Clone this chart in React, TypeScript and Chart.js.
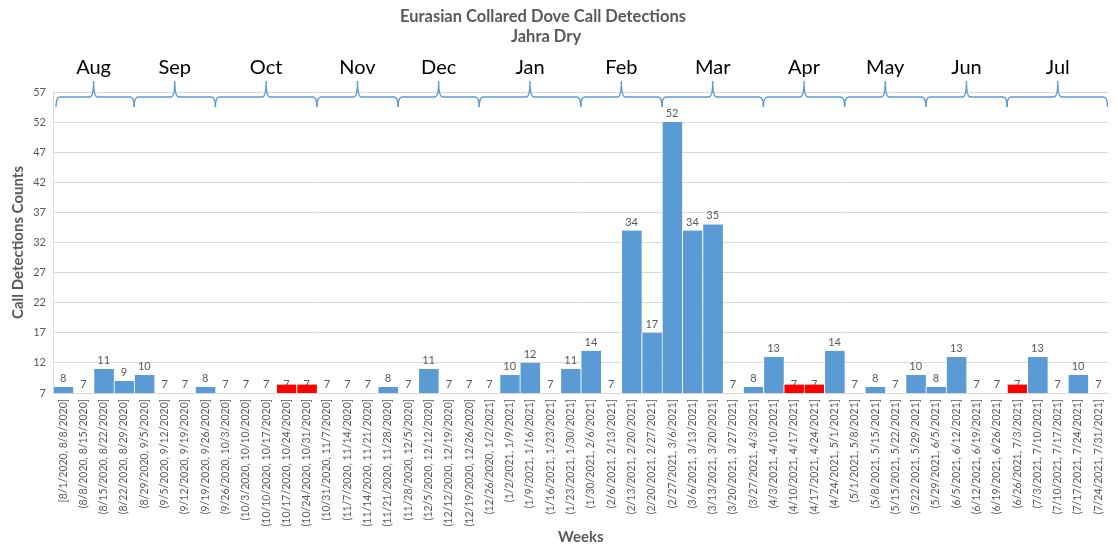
import React, { useEffect, useRef } from 'react';
import { Chart, registerables } from 'chart.js';

Chart.register(...registerables);

const chartTitle = ['Eurasian Collared Dove Call Detections', 'Jahra Dry'];

const weekLabels = [
  '[8/1/2020, 8/8/2020]',
  '(8/8/2020, 8/15/2020]',
  '(8/15/2020, 8/22/2020]',
  '(8/22/2020, 8/29/2020]',
  '(8/29/2020, 9/5/2020]',
  '(9/5/2020, 9/12/2020]',
  '(9/12/2020, 9/19/2020]',
  '(9/19/2020, 9/26/2020]',
  '(9/26/2020, 10/3/2020]',
  '(10/3/2020, 10/10/2020]',
  '(10/10/2020, 10/17/2020]',
  '(10/17/2020, 10/24/2020]',
  '(10/24/2020, 10/31/2020]',
  '(10/31/2020, 11/7/2020]',
  '(11/7/2020, 11/14/2020]',
  '(11/14/2020, 11/21/2020]',
  '(11/21/2020, 11/28/2020]',
  '(11/28/2020, 12/5/2020]',
  '(12/5/2020, 12/12/2020]',
  '(12/12/2020, 12/19/2020]',
  '(12/19/2020, 12/26/2020]',
  '(12/26/2020, 1/2/2021]',
  '(1/2/2021, 1/9/2021]',
  '(1/9/2021, 1/16/2021]',
  '(1/16/2021, 1/23/2021]',
  '(1/23/2021, 1/30/2021]',
  '(1/30/2021, 2/6/2021]',
  '(2/6/2021, 2/13/2021]',
  '(2/13/2021, 2/20/2021]',
  '(2/20/2021, 2/27/2021]',
  '(2/27/2021, 3/6/2021]',
  '(3/6/2021, 3/13/2021]',
  '(3/13/2021, 3/20/2021]',
  '(3/20/2021, 3/27/2021]',
  '(3/27/2021, 4/3/2021]',
  '(4/3/2021, 4/10/2021]',
  '(4/10/2021, 4/17/2021]',
  '(4/17/2021, 4/24/2021]',
  '(4/24/2021, 5/1/2021]',
  '(5/1/2021, 5/8/2021]',
  '(5/8/2021, 5/15/2021]',
  '(5/15/2021, 5/22/2021]',
  '(5/22/2021, 5/29/2021]',
  '(5/29/2021, 6/5/2021]',
  '(6/5/2021, 6/12/2021]',
  '(6/12/2021, 6/19/2021]',
  '(6/19/2021, 6/26/2021]',
  '(6/26/2021, 7/3/2021]',
  '(7/3/2021, 7/10/2021]',
  '(7/10/2021, 7/17/2021]',
  '(7/17/2021, 7/24/2021]',
  '(7/24/2021, 7/31/2021]',
];

const callCounts = [
  8, 7, 11, 9, 10, 7, 7, 8, 7, 7, 7, 7, 7,
  7, 7, 7, 8, 7, 11, 7, 7, 7, 10, 12, 7, 11,
  14, 7, 34, 17, 52, 34, 35, 7, 8, 13, 7, 7, 14,
  7, 8, 7, 10, 8, 13, 7, 7, 7, 13, 7, 10, 7,
];

// weeks highlighted in red (bar drawn to a marker height, label keeps the count)
const flaggedWeeks = [
  '(10/17/2020, 10/24/2020]',
  '(10/24/2020, 10/31/2020]',
  '(4/10/2021, 4/17/2021]',
  '(4/17/2021, 4/24/2021]',
  '(6/26/2021, 7/3/2021]',
];
const flaggedBarValue = 8.4;

const monthNames = ['Aug', 'Sep', 'Oct', 'Nov', 'Dec', 'Jan', 'Feb', 'Mar', 'Apr', 'May', 'Jun', 'Jul'];
const weeksPerMonth = [4, 4, 5, 4, 4, 5, 4, 5, 4, 4, 4, 5];

const yTicks = [7, 12, 17, 22, 27, 32, 37, 42, 47, 52, 57];

const GRAY = '#595959';
const BLUE = '#5B9BD5';
const RED = '#FF0000';

export default function App() {
  const canvasRef = useRef<HTMLCanvasElement | null>(null);

  useEffect(() => {
    document.body.style.margin = '0';
    const canvas = canvasRef.current;
    if (!canvas) return;
    const flagged = new Set(flaggedWeeks);
    const barValues = weekLabels.map((w, i) => (flagged.has(w) ? flaggedBarValue : callCounts[i]));
    const barColors = weekLabels.map((w) => (flagged.has(w) ? RED : BLUE));

    const overlay = {
      id: 'overlay',
      beforeDatasetsDraw(chart: any) {
        const ctx = chart.ctx;
        const meta = chart.getDatasetMeta(0);
        const y = chart.scales.y;
        ctx.save();
        ctx.font = '11px Lato';
        ctx.fillStyle = GRAY;
        ctx.textAlign = 'center';
        ctx.textBaseline = 'bottom';
        callCounts.forEach((v, i) => {
          const el = meta.data[i];
          ctx.fillText(String(v), el.x, y.getPixelForValue(v) - 3);
        });
        ctx.restore();
      },
      afterDraw(chart: any) {
        const ctx = chart.ctx;
        const area = chart.chartArea;
        const n = weekLabels.length;
        const w = (area.right - area.left) / n;
        ctx.save();
        // title
        ctx.fillStyle = GRAY;
        ctx.textAlign = 'center';
        ctx.textBaseline = 'middle';
        ctx.font = 'bold 16.5px Lato';
        ctx.fillText(chartTitle[0], 543, 17);
        ctx.fillText(chartTitle[1], 546, 37);
        // month brackets
        const yLine = 97;
        const yDown = 107;
        const yUp = 81;
        const r = 4;
        ctx.strokeStyle = BLUE;
        ctx.lineWidth = 1.4;
        ctx.font = '20px Lato';
        ctx.fillStyle = '#000000';
        let start = 0;
        weeksPerMonth.forEach((count, m) => {
          const end = start + count;
          const xa = area.left + w * start + (m === 0 ? 3 : 0);
          const xb = area.left + w * end - (m === weeksPerMonth.length - 1 ? 1 : 0);
          const xc = area.left + w * (start + count / 2);
          ctx.beginPath();
          ctx.moveTo(xa, yDown);
          ctx.quadraticCurveTo(xa, yLine, xa + r, yLine);
          ctx.lineTo(xc - r, yLine);
          ctx.quadraticCurveTo(xc, yLine, xc, yUp);
          ctx.quadraticCurveTo(xc, yLine, xc + r, yLine);
          ctx.lineTo(xb - r, yLine);
          ctx.quadraticCurveTo(xb, yLine, xb, yDown);
          ctx.stroke();
          ctx.fillText(monthNames[m], xc, 68);
          start = end;
        });
        ctx.restore();
      },
    };

    Chart.defaults.font.family = 'Lato';
    const chart = new Chart(canvas, {
      type: 'bar',
      data: {
        labels: weekLabels,
        datasets: [
          {
            data: barValues,
            backgroundColor: barColors,
            borderColor: '#FFFFFF',
            borderWidth: { left: 1, right: 0, top: 0, bottom: 0 },
            borderSkipped: false,
            barPercentage: 1,
            categoryPercentage: 1,
            minBarLength: 4,
          },
        ],
      },
      options: {
        responsive: false,
        animation: false,
        layout: { padding: { top: 92, left: 0, right: 0, bottom: 0 } },
        plugins: { legend: { display: false }, tooltip: { enabled: false } },
        scales: {
          x: {
            type: 'category',
            offset: true,
            grid: { display: false, drawTicks: false },
            border: { display: true, color: '#D9D9D9' },
            ticks: {
              autoSkip: false,
              maxRotation: 90,
              minRotation: 90,
              padding: 6,
              color: GRAY,
              font: { size: 10.5 },
            },
            title: {
              display: true,
              text: 'Weeks',
              color: GRAY,
              font: { size: 15, weight: 'bold' },
              padding: { top: 0, bottom: 2 },
            },
            afterFit(scale: any) {
              scale.height = 155;
            },
          },
          y: {
            min: 7,
            max: 57,
            grid: { color: '#D9D9D9', drawTicks: false },
            border: { display: true, color: '#D9D9D9' },
            ticks: { color: GRAY, font: { size: 11 }, padding: 7 },
            afterBuildTicks(scale: any) {
              scale.ticks = yTicks.map((v) => ({ value: v }));
            },
            title: {
              display: true,
              text: 'Call Detections Counts',
              color: GRAY,
              font: { size: 15, weight: 'bold' },
              padding: { top: 9, bottom: 0 },
            },
            afterFit(scale: any) {
              scale.width = 53;
            },
          },
        },
      },
      plugins: [overlay],
    });
    return () => chart.destroy();
  }, []);

  return (
    <div style={{ width: 1117, height: 548 }}>
      <canvas ref={canvasRef} width={1117} height={548} style={{ display: 'block' }} />
    </div>
  );
}
